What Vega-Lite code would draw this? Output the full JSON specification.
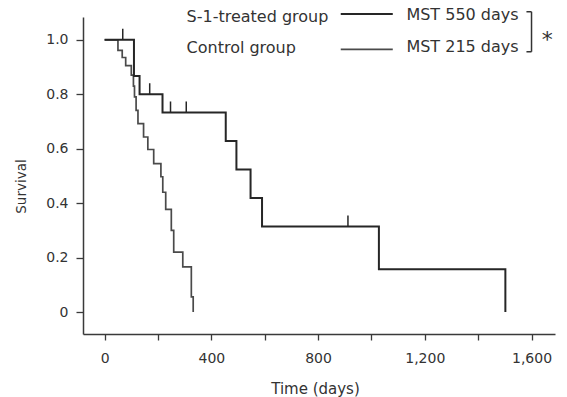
{
  "$schema": "https://vega.github.io/schema/vega-lite/v6.json",
  "width": 472,
  "height": 317,
  "autosize": {"type": "none"},
  "padding": {"left": 83, "top": 17, "right": 12, "bottom": 63},
  "config": {
    "view": {"stroke": null},
    "font": "DejaVu Sans",
    "axis": {"grid": false, "domainColor": "#3a3a3a", "domainWidth": 1.5, "tickColor": "#3a3a3a", "tickWidth": 1.3, "labelColor": "#333", "titleColor": "#333", "labelFont": "DejaVu Sans", "titleFont": "DejaVu Sans", "labelFontWeight": "normal", "titleFontWeight": "normal"}
  },
  "datasets": {
    "curves": [
      {"group": "S-1", "day": 0, "surv": 1.0},
      {"group": "S-1", "day": 110, "surv": 0.867},
      {"group": "S-1", "day": 131, "surv": 0.8},
      {"group": "S-1", "day": 217, "surv": 0.733},
      {"group": "S-1", "day": 454, "surv": 0.628},
      {"group": "S-1", "day": 494, "surv": 0.524},
      {"group": "S-1", "day": 547, "surv": 0.419},
      {"group": "S-1", "day": 590, "surv": 0.314},
      {"group": "S-1", "day": 1028, "surv": 0.157},
      {"group": "S-1", "day": 1502, "surv": 0.0},
      {"group": "Control", "day": 0, "surv": 1.0},
      {"group": "Control", "day": 50, "surv": 0.961},
      {"group": "Control", "day": 66, "surv": 0.935},
      {"group": "Control", "day": 79, "surv": 0.905},
      {"group": "Control", "day": 100, "surv": 0.87},
      {"group": "Control", "day": 108, "surv": 0.83},
      {"group": "Control", "day": 112, "surv": 0.79},
      {"group": "Control", "day": 118, "surv": 0.741},
      {"group": "Control", "day": 125, "surv": 0.692},
      {"group": "Control", "day": 146, "surv": 0.643},
      {"group": "Control", "day": 162, "surv": 0.597},
      {"group": "Control", "day": 184, "surv": 0.545},
      {"group": "Control", "day": 211, "surv": 0.497},
      {"group": "Control", "day": 218, "surv": 0.44},
      {"group": "Control", "day": 229, "surv": 0.377},
      {"group": "Control", "day": 250, "surv": 0.3},
      {"group": "Control", "day": 259, "surv": 0.22},
      {"group": "Control", "day": 293, "surv": 0.166},
      {"group": "Control", "day": 325, "surv": 0.056},
      {"group": "Control", "day": 332, "surv": 0.0}
    ],
    "censor": [
      {"day": 68, "surv": 1.0},
      {"day": 169, "surv": 0.8},
      {"day": 247, "surv": 0.733},
      {"day": 306, "surv": 0.733},
      {"day": 912, "surv": 0.314}
    ],
    "labels": [
      {"day": 307, "surv": 1.085, "text": "S-1-treated group"},
      {"day": 307, "surv": 0.970, "text": "Control group"},
      {"day": 1131, "surv": 1.091, "text": "MST 550 days"},
      {"day": 1131, "surv": 0.975, "text": "MST 215 days"}
    ],
    "keylines": [
      {"group": "S-1", "day": 885, "day2": 1080, "surv": 1.095},
      {"group": "Control", "day": 885, "day2": 1080, "surv": 0.965}
    ],
    "bracket": [
      {"day": 1581, "day2": 1600, "surv": 1.103, "surv2": 1.103},
      {"day": 1600, "day2": 1600, "surv": 1.103, "surv2": 0.956},
      {"day": 1581, "day2": 1600, "surv": 0.956, "surv2": 0.956}
    ],
    "star": [
      {"day": 1659, "surv": 0.975, "text": "*"}
    ]
  },
  "layer": [
    {
      "data": {"name": "curves"},
      "transform": [{"filter": "datum.group == 'Control'"}],
      "mark": {"type": "line", "interpolate": "step-after", "color": "#4a4a4a", "strokeWidth": 1.7, "clip": false},
      "encoding": {
        "x": {"field": "day", "type": "quantitative", "scale": {"domain": [-81, 1688], "nice": false, "zero": false},
          "axis": {"values": [0, 200, 400, 600, 800, 1000, 1200, 1400, 1600], "labelExpr": "datum.value % 400 == 0 ? format(datum.value, ',') : ''", "labelOverlap": false, "labelFlush": false, "tickSize": 6, "labelPadding": 11, "labelFontSize": 14, "title": "Time (days)", "titleFontSize": 15, "titleX": 232, "titleY": 54, "titleBaseline": "middle", "titleAlign": "center"}},
        "y": {"field": "surv", "type": "quantitative", "scale": {"domain": [-0.0807, 1.0837], "nice": false, "zero": false},
          "axis": {"values": [0, 0.2, 0.4, 0.6, 0.8, 1.0], "labelExpr": "datum.value == 0 ? '0' : format(datum.value, '.1f')", "labelOverlap": false, "labelFlush": false, "tickSize": 7, "labelPadding": 8, "labelFontSize": 14, "title": "Survival", "titleFontSize": 13.5, "titleX": -62, "titleY": 169, "titleBaseline": "middle", "titleAlign": "center"}}
      }
    },
    {
      "data": {"name": "curves"},
      "transform": [{"filter": "datum.group == 'S-1'"}],
      "mark": {"type": "line", "interpolate": "step-after", "color": "#262626", "strokeWidth": 2, "clip": false},
      "encoding": {
        "x": {"field": "day", "type": "quantitative"},
        "y": {"field": "surv", "type": "quantitative"}
      }
    },
    {
      "data": {"name": "censor"},
      "mark": {"type": "point", "shape": "M0,0L0,-2", "size": 121, "filled": false, "stroke": "#262626", "strokeWidth": 1.5, "opacity": 1},
      "encoding": {
        "x": {"field": "day", "type": "quantitative"},
        "y": {"field": "surv", "type": "quantitative"}
      }
    },
    {
      "data": {"name": "labels"},
      "mark": {"type": "text", "align": "left", "baseline": "middle", "fontSize": 16, "font": "DejaVu Sans", "color": "#333"},
      "encoding": {
        "x": {"field": "day", "type": "quantitative"},
        "y": {"field": "surv", "type": "quantitative"},
        "text": {"field": "text", "type": "nominal"}
      }
    },
    {
      "data": {"name": "keylines"},
      "transform": [{"filter": "datum.group == 'S-1'"}],
      "mark": {"type": "rule", "color": "#262626", "strokeWidth": 2},
      "encoding": {
        "x": {"field": "day", "type": "quantitative"},
        "x2": {"field": "day2"},
        "y": {"field": "surv", "type": "quantitative"}
      }
    },
    {
      "data": {"name": "keylines"},
      "transform": [{"filter": "datum.group == 'Control'"}],
      "mark": {"type": "rule", "color": "#4a4a4a", "strokeWidth": 1.7},
      "encoding": {
        "x": {"field": "day", "type": "quantitative"},
        "x2": {"field": "day2"},
        "y": {"field": "surv", "type": "quantitative"}
      }
    },
    {
      "data": {"name": "bracket"},
      "mark": {"type": "rule", "color": "#333", "strokeWidth": 1.5},
      "encoding": {
        "x": {"field": "day", "type": "quantitative"},
        "x2": {"field": "day2"},
        "y": {"field": "surv", "type": "quantitative"},
        "y2": {"field": "surv2"}
      }
    },
    {
      "data": {"name": "star"},
      "mark": {"type": "text", "align": "center", "baseline": "alphabetic", "fontSize": 22, "font": "DejaVu Sans", "color": "#333"},
      "encoding": {
        "x": {"field": "day", "type": "quantitative"},
        "y": {"field": "surv", "type": "quantitative"},
        "text": {"field": "text", "type": "nominal"}
      }
    }
  ]
}
